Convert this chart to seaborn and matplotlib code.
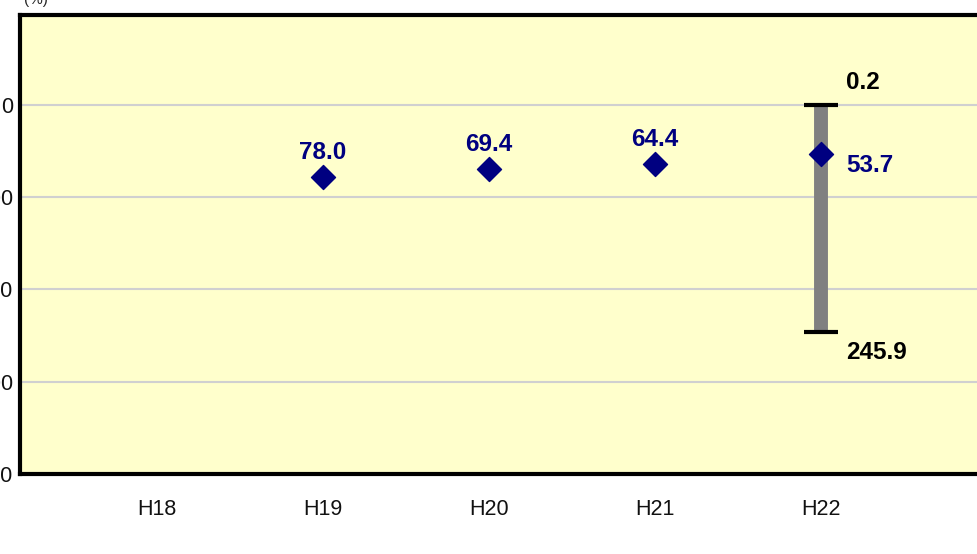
import numpy as np
import pandas as pd
import matplotlib
matplotlib.use("Agg")
import matplotlib.pyplot as plt
import seaborn as sns

# datos
anios = ["H18", "H19", "H20", "H21", "H22"]
valores = [np.nan, 78.0, 69.4, 64.4, 53.7]
rango_bajo = 0.2
rango_alto = 245.9
y_ticks = [0, 100, 200, 300, 400]

sns.set_style("white")
plt.rcParams["font.family"] = ["Liberation Sans", "DejaVu Sans"]

df = pd.DataFrame({"x": np.arange(len(anios)), "anio": anios, "valor": valores})

fig = plt.figure(figsize=(9.78, 5.54), dpi=100)
ax = fig.add_axes([20 / 978, 80 / 554, 1050 / 978, 459 / 554])
ax.set_facecolor("#ffffcc")

# rango de H22
i22 = anios.index("H22")
ax.vlines(i22, rango_bajo, rango_alto, color="#808080", lw=10, zorder=2)
ax.hlines([rango_bajo, rango_alto], i22 - 0.105, i22 + 0.105, color="black", lw=3, zorder=3)

sns.scatterplot(data=df.dropna(), x="x", y="valor", marker="D", s=150,
                color="#000080", edgecolor="#000080", ax=ax, zorder=4)

lbl = dict(family=["Liberation Sans Narrow", "Liberation Sans", "DejaVu Sans"],
           fontsize=17.5, fontweight="bold")
for xi, v in zip(df["x"], df["valor"]):
    if np.isnan(v):
        continue
    if xi == i22:
        ax.text(xi + 0.15, v + 12, f"{v:.1f}", color="#000080", va="center", ha="left", **lbl)
    else:
        ax.text(xi, v - 14, f"{v:.1f}", color="#000080", va="bottom", ha="center", **lbl)
ax.text(i22 + 0.15, rango_bajo - 12, f"{rango_bajo:.1f}", color="black", va="bottom", ha="left", **lbl)
ax.text(i22 + 0.15, rango_alto + 10, f"{rango_alto:.1f}", color="black", va="top", ha="left", **lbl)

ax.set_xlim(-0.825, 5.5)
ax.set_ylim(400, -97.5)
ax.set_xticks(range(len(anios)))
ax.set_xticklabels(anios)
ax.set_yticks(y_ticks)
ax.tick_params(axis="both", length=0, labelsize=15.5, labelcolor="#111111")
ax.tick_params(axis="x", pad=18)
ax.tick_params(axis="y", pad=5)
ax.grid(axis="y", color="#d0d0d0", lw=1.5)
ax.set_axisbelow(True)
ax.set_xlabel("")
ax.set_ylabel("")
for s in ["top", "left", "bottom", "right"]:
    ax.spines[s].set_color("black")
    ax.spines[s].set_linewidth(3)

fig.text(24 / 978, 1.0, "(%)", fontsize=11, ha="left", va="center")

fig.savefig("out.png", dpi=100)
